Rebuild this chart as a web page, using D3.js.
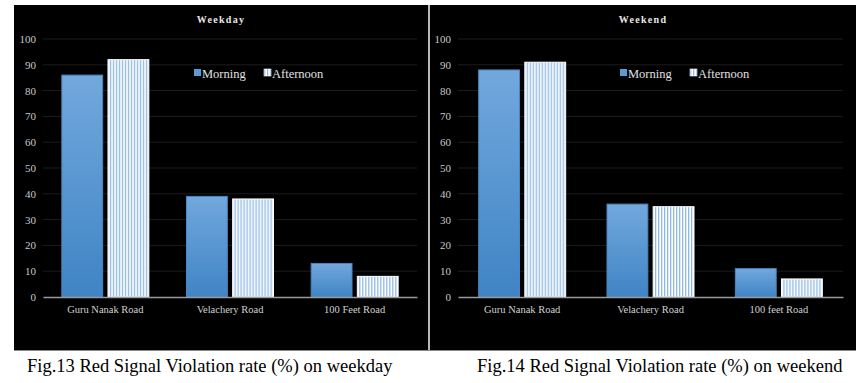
<!DOCTYPE html>
<html>
<head>
<meta charset="utf-8">
<script src="https://d3js.org/d3.v7.min.js"></script>
<style>
  body { margin: 0; background: #fff; font-family: "Liberation Serif", serif; }
  svg { display: block; }
</style>
</head>
<body>
<svg id="chart" width="865" height="383"></svg>
<script>
// data
const roadsWeekday = ["Guru Nanak Road", "Velachery Road", "100 Feet Road"];
const roadsWeekend = ["Guru Nanak Road", "Velachery Road", "100 feet Road"];
const series = ["Morning", "Afternoon"];
const weekdayMorning = [86, 39, 13];
const weekdayAfternoon = [92, 38, 8];
const weekendMorning = [88, 36, 11];
const weekendAfternoon = [91, 35, 7];
const yTicks = [0, 10, 20, 30, 40, 50, 60, 70, 80, 90, 100];

const FONT = "Liberation Serif";
const svg = d3.select("#chart").style("font-family", FONT);

// fills
const defs = svg.append("defs");
const grad = defs.append("linearGradient")
  .attr("id", "blueGrad").attr("x1", 0).attr("y1", 0).attr("x2", 0).attr("y2", 1);
grad.append("stop").attr("offset", "0%").attr("stop-color", "#72a8dd");
grad.append("stop").attr("offset", "100%").attr("stop-color", "#3f84c5");

const pat = defs.append("pattern")
  .attr("id", "stripes").attr("patternUnits", "userSpaceOnUse")
  .attr("width", 3).attr("height", 10);
pat.append("rect").attr("width", 3).attr("height", 10).attr("fill", "#ffffff");
pat.append("rect").attr("x", 0).attr("width", 1.3).attr("height", 10).attr("fill", "#8fb9e3");

function panel(opts) {
  const g = svg.append("g");
  g.append("rect")
    .attr("x", opts.x0).attr("y", 5)
    .attr("width", opts.x1 - opts.x0).attr("height", 345)
    .attr("fill", "#000");

  const x = d3.scaleBand().domain(opts.cats).range([opts.left, opts.right])
    .paddingInner(0).paddingOuter(0);
  const xs = d3.scaleBand().domain(series).range([0, 87]).paddingInner(0.115);
  const y = d3.scaleLinear().domain([0, 100]).range([297, 39]);

  // grid
  g.append("g").selectAll("line").data(yTicks.slice(1)).join("line")
    .attr("x1", opts.left).attr("x2", opts.right)
    .attr("y1", d => y(d)).attr("y2", d => y(d))
    .attr("stroke", "#1c1c1c").attr("stroke-width", 1);

  // y axis labels
  const ya = g.append("g").attr("transform", `translate(${opts.left},0)`)
    .call(d3.axisLeft(y).tickValues(yTicks).tickSize(0).tickPadding(7));
  ya.select(".domain").remove();
  ya.attr("font-family", null);
  ya.selectAll("text").style("font-family", FONT).attr("fill", "#c8c8c8").attr("font-size", 11);

  // title
  g.append("text")
    .attr("x", (opts.x0 + opts.x1) / 2).attr("y", 23)
    .attr("text-anchor", "middle")
    .style("font-family", FONT).attr("font-weight", "bold")
    .attr("font-size", 10).attr("letter-spacing", 1.3)
    .attr("fill", "#e8e8e8").text(opts.title);

  // bars
  const rows = opts.cats.map((c, i) => ({ cat: c, vals: [opts.morning[i], opts.afternoon[i]] }));
  const grp = g.append("g").selectAll("g").data(rows).join("g")
    .attr("transform", d => `translate(${x(d.cat) + x.bandwidth() / 2 - 43.5},0)`);
  grp.selectAll("rect").data(d => d.vals.map((v, k) => ({ s: series[k], v }))).join("rect")
    .attr("x", d => xs(d.s))
    .attr("y", d => y(d.v))
    .attr("width", xs.bandwidth())
    .attr("height", d => y(0) - y(d.v))
    .attr("fill", d => d.s === "Morning" ? "url(#blueGrad)" : "url(#stripes)")
    .attr("stroke", d => d.s === "Morning" ? "#4a86c0" : "#ffffff")
    .attr("stroke-width", 1);

  // x axis
  const xa = g.append("g").attr("transform", `translate(0,${y(0)})`)
    .call(d3.axisBottom(x).tickSize(0).tickPadding(9));
  xa.attr("font-family", null);
  xa.select(".domain").attr("stroke", "#9a9a9a").attr("stroke-width", 1.3);
  xa.selectAll("text").style("font-family", FONT).attr("fill", "#d0d0d0").attr("font-size", 10.5);

  // legend
  const lg = g.append("g").attr("transform", `translate(${opts.legendX},73)`);
  const items = lg.selectAll("g").data(series).join("g")
    .attr("transform", (d, i) => `translate(${i * 70},0)`);
  items.append("rect").attr("x", 0).attr("y", -4).attr("width", 7).attr("height", 7)
    .attr("fill", d => d === "Morning" ? "#5b9bd5" : "url(#stripes)")
    .attr("stroke", d => d === "Morning" ? "none" : "#fff").attr("stroke-width", 0.6);
  items.append("text").attr("x", 8).attr("y", 4.5)
    .style("font-family", FONT).attr("font-size", 12.5)
    .attr("fill", "#e0e0e0").text(d => d);

  // caption
  svg.append("text")
    .attr("x", opts.capX).attr("y", 372)
    .style("font-family", FONT).attr("font-size", 18.5)
    .attr("fill", "#000").text(opts.caption);
}

panel({
  x0: 14, x1: 428, left: 43, right: 417, title: "Weekday",
  cats: roadsWeekday, morning: weekdayMorning, afternoon: weekdayAfternoon,
  legendX: 194, capX: 27,
  caption: "Fig.13 Red Signal Violation rate (%) on weekday"
});
panel({
  x0: 430, x1: 856, left: 458, right: 843, title: "Weekend",
  cats: roadsWeekend, morning: weekendMorning, afternoon: weekendAfternoon,
  legendX: 620, capX: 477,
  caption: "Fig.14 Red Signal Violation rate (%) on weekend"
});

// panel borders
svg.append("line").attr("x1", 429).attr("x2", 429).attr("y1", 5).attr("y2", 350)
  .attr("stroke", "#8a8a8a").attr("stroke-width", 1.2);
svg.append("line").attr("x1", 14).attr("x2", 856).attr("y1", 350.5).attr("y2", 350.5)
  .attr("stroke", "#8a8a8a").attr("stroke-width", 1);
</script>
</body>
</html>
